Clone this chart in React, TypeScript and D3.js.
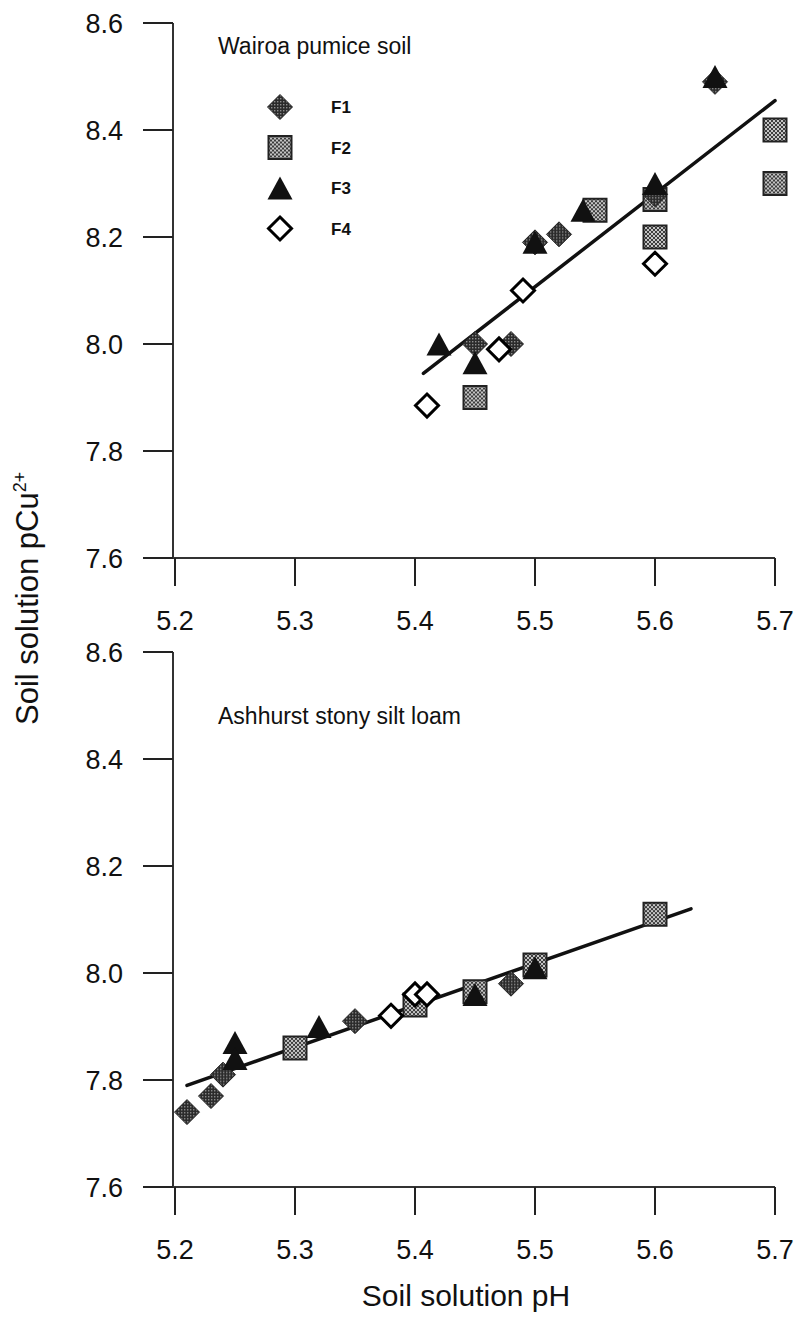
import React from "react";
import * as d3 from "d3";

// pH axis and pCu axis ticks shared by both panels
const xTicks = [5.2, 5.3, 5.4, 5.5, 5.6, 5.7];
const yTicks = [7.6, 7.8, 8.0, 8.2, 8.4, 8.6];

// Wairoa pumice soil: [soil solution pH, pCu2+]
const wairoaF1 = [[5.45, 8.0], [5.48, 8.0], [5.5, 8.19], [5.52, 8.205], [5.6, 8.28], [5.65, 8.49]];
const wairoaF2 = [[5.45, 7.9], [5.55, 8.25], [5.6, 8.27], [5.6, 8.2], [5.7, 8.4], [5.7, 8.3]];
const wairoaF3 = [[5.42, 8.0], [5.45, 7.965], [5.5, 8.19], [5.54, 8.25], [5.6, 8.3], [5.65, 8.5]];
const wairoaF4 = [[5.41, 7.885], [5.47, 7.99], [5.49, 8.1], [5.6, 8.15]];
const wairoaFit = [[5.407, 7.945], [5.7, 8.455]];

// Ashhurst stony silt loam
const ashF1 = [[5.21, 7.74], [5.23, 7.77], [5.24, 7.81], [5.35, 7.91], [5.48, 7.98]];
const ashF2 = [[5.3, 7.86], [5.4, 7.94], [5.45, 7.965], [5.5, 8.015], [5.6, 8.11]];
const ashF3 = [[5.25, 7.87], [5.25, 7.84], [5.32, 7.9], [5.45, 7.96], [5.5, 8.01]];
const ashF4 = [[5.38, 7.92], [5.4, 7.96], [5.41, 7.96]];
const ashFit = [[5.21, 7.79], [5.63, 8.12]];

const legendLabels = ["F1", "F2", "F3", "F4"];

const FONT = "'Liberation Sans', Arial, sans-serif";

type Pt = number[];

const squarePath = (s: number) => {
  const p = d3.path();
  p.rect(-s / 2, -s / 2, s, s);
  return p.toString();
};
const diamondPath = (r: number) => {
  const p = d3.path();
  p.moveTo(0, -r);
  p.lineTo(r, 0);
  p.lineTo(0, r);
  p.lineTo(-r, 0);
  p.closePath();
  return p.toString();
};
const trianglePath = (b: number, h: number) => {
  const p = d3.path();
  p.moveTo(0, -h / 2);
  p.lineTo(b / 2, h / 2);
  p.lineTo(-b / 2, h / 2);
  p.closePath();
  return p.toString();
};

const SQ = squarePath(23);
const DI = diamondPath(12.5);
const TR = trianglePath(25, 23);
const OD = diamondPath(11.5);

function Marker({ kind, x, y }: { kind: number; x: number; y: number }) {
  const t = `translate(${x},${y})`;
  if (kind === 0)
    return <path d={DI} transform={t} fill="url(#patF1)" stroke="#222" strokeWidth={1} />;
  if (kind === 1)
    return <path d={SQ} transform={t} fill="url(#patF2)" stroke="#222" strokeWidth={2} />;
  if (kind === 2) return <path d={TR} transform={t} fill="#111" />;
  return <path d={OD} transform={t} fill="#fff" stroke="#000" strokeWidth={3} />;
}

function Panel({
  yTop,
  yBottom,
  title,
  titleY,
  series,
  fit,
  legend,
}: {
  yTop: number;
  yBottom: number;
  title: string;
  titleY: number;
  series: Pt[][];
  fit: Pt[];
  legend: boolean;
}) {
  const x = d3.scaleLinear().domain([5.2, 5.7]).range([175, 775]);
  const y = d3.scaleLinear().domain([7.6, 8.6]).range([yBottom, yTop]);
  const axisX = 173;
  const line = d3
    .line<Pt>()
    .x((d) => x(d[0]))
    .y((d) => y(d[1]));
  // squares underneath, then diamonds, triangles, open diamonds
  const order = [1, 0, 2, 3];
  return (
    <g>
      <line x1={axisX} x2={axisX} y1={yTop} y2={yBottom} stroke="#333" strokeWidth={2} />
      <line x1={axisX} x2={x(5.7)} y1={yBottom} y2={yBottom} stroke="#333" strokeWidth={2} />
      {yTicks.map((v) => (
        <g key={v}>
          <line x1={axisX - 30} x2={axisX} y1={y(v)} y2={y(v)} stroke="#222" strokeWidth={2} />
          <text
            x={axisX - 50}
            y={y(v)}
            dy="0.36em"
            textAnchor="end"
            fontFamily={FONT}
            fontSize={27}
            fill="#111"
          >
            {v.toFixed(1)}
          </text>
        </g>
      ))}
      {xTicks.map((v) => (
        <g key={v}>
          <line x1={x(v)} x2={x(v)} y1={yBottom} y2={yBottom + 28} stroke="#222" strokeWidth={2} />
          <text
            x={x(v)}
            y={yBottom + 62}
            dy="0.36em"
            textAnchor="middle"
            fontFamily={FONT}
            fontSize={27}
            fill="#111"
          >
            {v.toFixed(1)}
          </text>
        </g>
      ))}
      <text x={218} y={titleY} dy="0.36em" fontFamily={FONT} fontSize={23} fill="#111">
        {title}
      </text>
      <path d={line(fit) || ""} fill="none" stroke="#111" strokeWidth={3.5} strokeLinecap="round" />
      {order.map((k) =>
        series[k].map((d, i) => <Marker key={`${k}-${i}`} kind={k} x={x(d[0])} y={y(d[1])} />)
      )}
      {legend &&
        legendLabels.map((lab, i) => {
          const ly = 107 + i * 40.5;
          return (
            <g key={lab}>
              <Marker kind={i} x={280} y={ly} />
              <text
                x={331}
                y={ly}
                dy="0.36em"
                fontFamily={FONT}
                fontSize={17}
                fontWeight="bold"
                fill="#111"
              >
                {lab}
              </text>
            </g>
          );
        })}
    </g>
  );
}

export default function App() {
  const panels = [
    { s: [wairoaF1, wairoaF2, wairoaF3, wairoaF4], fit: wairoaFit, yTop: 23, yBottom: 558, title: "Wairoa pumice soil", titleY: 46, legend: true },
    { s: [ashF1, ashF2, ashF3, ashF4], fit: ashFit, yTop: 652, yBottom: 1187, title: "Ashhurst stony silt loam", titleY: 716, legend: false },
  ];
  return (
    <svg
      width={805}
      height={1320}
      style={{ position: "absolute", left: 0, top: 0, background: "#fff" }}
    >
      <defs>
        <pattern id="patF1" width={3} height={3} patternUnits="userSpaceOnUse">
          <rect width={3} height={3} fill="#2b2b2b" />
          <rect x={0} y={0} width={1.4} height={1.4} fill="#8c8c8c" />
        </pattern>
        <pattern id="patF2" width={4} height={4} patternUnits="userSpaceOnUse">
          <rect width={4} height={4} fill="#3c3c3c" />
          <rect x={0} y={0} width={2} height={2} fill="#c4c4c4" />
          <rect x={2} y={2} width={2} height={2} fill="#c4c4c4" />
        </pattern>
      </defs>
      <rect width={805} height={1320} fill="#fff" />
      {panels.map((p) => (
        <Panel
          key={p.title}
          yTop={p.yTop}
          yBottom={p.yBottom}
          title={p.title}
          titleY={p.titleY}
          series={p.s}
          fit={p.fit}
          legend={p.legend}
        />
      ))}
      <text
        transform="translate(38,725) rotate(-90)"
        textAnchor="start"
        fontFamily={FONT}
        fontSize={31}
        fill="#111"
      >
        Soil solution pCu
        <tspan fontSize={18} dy={-12}>
          2+
        </tspan>
      </text>
      <text x={466} y={1306} textAnchor="middle" fontFamily={FONT} fontSize={30} fill="#111">
        Soil solution pH
      </text>
    </svg>
  );
}
